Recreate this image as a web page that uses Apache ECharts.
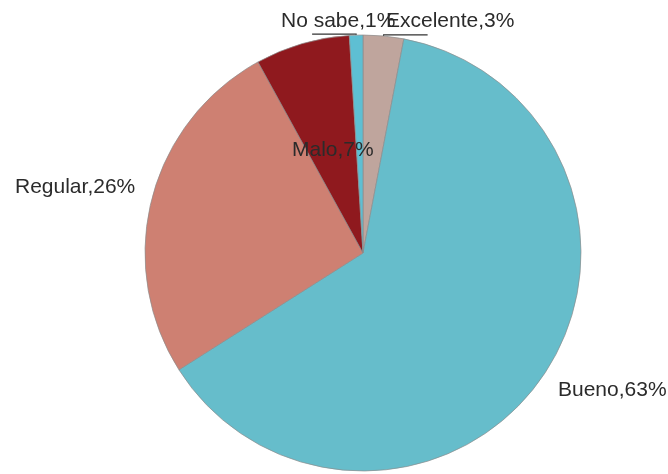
<!DOCTYPE html>
<html>
<head>
<meta charset="utf-8">
<script src="https://cdn.jsdelivr.net/npm/echarts@6/dist/echarts.min.js"></script>
<style>
html,body{margin:0;padding:0;background:#fff;}
#chart{width:668px;height:474px;}
</style>
</head>
<body>
<div id="chart"></div>
<script>
const categories = ['Excelente', 'Bueno', 'Regular', 'Malo', 'No sabe'];
const values = [3, 63, 26, 7, 1];
const colors = ['#BFA59D', '#66BDCB', '#CE8072', '#8F191E', '#5EBFD3'];

const labelPlace = {
  'Excelente': {x: 386, y: 21},
  'Bueno': {x: 558, y: 390},
  'Regular': {x: 15, y: 187},
  'Malo': {x: 292, y: 150},
  'No sabe': {x: 281, y: 21}
};

const chart = echarts.init(document.getElementById('chart'));
chart.setOption({
  animation: false,
  backgroundColor: '#ffffff',
  series: [{
    type: 'pie',
    center: [363, 253],
    radius: 218,
    startAngle: 90,
    clockwise: true,
    avoidLabelOverlap: false,
    data: categories.map((c, i) => ({
      name: c,
      value: values[i],
      itemStyle: {color: colors[i]},
      labelLine: {show: c === 'Excelente' || c === 'No sabe'}
    })),
    itemStyle: {borderColor: '#8c8c8c', borderWidth: 0.7},
    label: {
      show: true,
      position: 'outside',
      formatter: p => p.name + ',' + p.value + '%',
      fontFamily: 'Liberation Sans, Arial, sans-serif',
      fontSize: 21,
      color: '#2b2b2b'
    },
    labelLine: {
      length: 1,
      length2: 44,
      smooth: false,
      lineStyle: {color: '#333333', width: 1.2}
    },
    labelLayout: function (params) {
      const name = categories[params.dataIndex];
      const pl = labelPlace[name];
      const out = {x: pl.x, y: pl.y, align: 'left', verticalAlign: 'middle'};
      if (params.labelLinePoints) out.labelLinePoints = params.labelLinePoints;
      return out;
    }
  }]
});
</script>
</body>
</html>
